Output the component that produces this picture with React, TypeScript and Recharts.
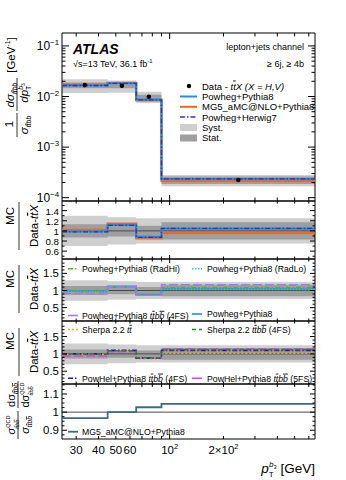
import React from 'react';
import {
  ComposedChart,
  Line,
  Area,
  Scatter,
  XAxis,
  YAxis,
  ReferenceArea,
  ReferenceLine,
} from 'recharts';

const FONT = '"Liberation Sans", Arial, Helvetica, sans-serif';

// bin edges of the b3 jet pT [GeV]
const binEdges = [25, 45, 65, 90, 650];

// top panel: normalised cross section [1/GeV]
const dataXsec = [0.0168, 0.0163, 0.0099, 2.24e-4];
const powhegPy8Xsec = [0.0166, 0.0183, 0.0087, 2.34e-4];
const mg5Py8Xsec = [0.0171, 0.0187, 0.0084, 2.15e-4];
const powhegH7Xsec = [0.0165, 0.0181, 0.0086, 2.35e-4];

// relative uncertainties
const systRel = [0.3, 0.27, 0.25, 0.25];
const statRel = [0.13, 0.11, 0.1, 0.17];

// MC / data ratios
const powhegPy8Ratio = [0.99, 1.12, 0.88, 1.046];
const mg5Py8Ratio = [1.02, 1.146, 0.85, 0.96];
const powhegH7Ratio = [0.98, 1.11, 0.87, 1.05];
const radHiRatio = [1.0, 1.1, 0.88, 1.08];
const radLoRatio = [0.98, 1.1, 0.86, 1.03];
const powheg4fsRatio = [0.92, 1.1, 0.86, 1.17];
const sherpaTtRatio = [0.98, 1.08, 0.86, 1.02];
const sherpa4fsRatio = [1.0, 1.09, 0.89, 1.12];
const powhel4fsRatio = [1.0, 1.1, 0.88, 1.1];
const powhel5fsRatio = [0.94, 1.07, 0.88, 1.14];

// ttbb(QCD+ttH+ttZ) / ttbb(QCD)
const qcdRatio = [0.967, 1.0, 1.027, 1.045];

// axis ticks
const xTicks = [30, 40, 50, 60, 70, 80, 90, 100, 200, 300, 400, 500, 600];
const xMajor = [100];
const xLabelValues = [30, 40, 50, 60, 100, 200];
const xLabelTexts = ['30', '40', '50', '60', '10|2', '2×10|2'];

const logMajor = [1e-4, 1e-3, 1e-2, 1e-1];
const logMinor = [2, 3, 4, 5, 6, 7, 8, 9].flatMap((m) => [m * 1e-4, m * 1e-3, m * 1e-2]);
const logLabels = ['10|−4', '10|−3', '10|−2', '10|−1'];

const r1Major = [0.6, 0.8, 1, 1.2, 1.4];
const r1Minor = [0.5, 0.7, 0.9, 1.1, 1.3, 1.5];
const r2Major = [0.5, 1, 1.5];
const r2Minor = [0.2, 0.3, 0.4, 0.6, 0.7, 0.8, 0.9, 1.1, 1.2, 1.3, 1.4, 1.6, 1.7, 1.8];
const r4Major = [0.9, 1, 1.1];
const r4Minor = [0.875, 0.925, 0.95, 0.975, 1.025, 1.05, 1.075, 1.125, 1.15];

const PL = 62;
const PR = 315;
const PAD = 8;

const stepRows = (series: Record<string, number[]>, bands?: { base: number[] | null }) =>
  binEdges.map((x, i) => {
    const k = Math.min(i, binEdges.length - 2);
    const row: any = { x };
    Object.entries(series).forEach(([key, vals]) => (row[key] = vals[k]));
    if (bands) {
      const b = bands.base ? bands.base[k] : 1;
      row.syst = [b * (1 - systRel[k]), b * (1 + systRel[k])];
      row.stat = [b * (1 - statRel[k]), b * (1 + statRel[k])];
    }
    return row;
  });

const binCenters = binEdges.slice(0, -1).map((lo, i) => Math.sqrt(lo * binEdges[i + 1]));
const dataPoints = dataXsec.map((y, i) => ({ x: binCenters[i], y }));

type Piece = { t: string; off?: number; sc?: number; over?: boolean; it?: boolean; dx?: number };

const Rich = ({
  x,
  y,
  size,
  pieces,
  anchor = 'start',
  rot = false,
  bold = false,
  italic = false,
}: {
  x: number;
  y: number;
  size: number;
  pieces: Piece[];
  anchor?: string;
  rot?: boolean;
  bold?: boolean;
  italic?: boolean;
}) => {
  let cur = 0;
  return (
    <text
      x={rot ? 0 : x}
      y={rot ? 0 : y}
      transform={rot ? `translate(${x},${y}) rotate(-90)` : undefined}
      fontSize={size}
      textAnchor={anchor as any}
      fontFamily={FONT}
      fontWeight={bold ? 'bold' : 'normal'}
      fontStyle={italic ? 'italic' : 'normal'}
      fill="#000"
    >
      {pieces.map((p, i) => {
        const target = (p.off ?? 0) * size;
        const dy = target - cur;
        cur = target;
        return (
          <tspan
            key={i}
            dy={dy}
            dx={p.dx ? p.dx * size : undefined}
            fontSize={(p.sc ?? 1) * size}
            fontStyle={p.it ? 'italic' : undefined}
            style={p.over ? { textDecoration: 'overline' } : undefined}
          >
            {p.t}
          </tspan>
        );
      })}
    </text>
  );
};

const ttbb = (off: number, sc: number, barB = true): Piece[] => [
  { t: 't', off, sc, it: true },
  { t: 't', off, sc, it: true, over: true },
  { t: 'b', off, sc, it: true },
  { t: 'b', off, sc, it: true, over: barB },
];

const powerPieces = (s: string): Piece[] => {
  const [a, b] = s.split('|');
  return b ? [{ t: a }, { t: b, off: -0.4, sc: 0.65 }] : [{ t: a }];
};

type LineSpec = { key: string; color: string; width: number; dash?: string };

type PanelProps = {
  top: number;
  bottom: number;
  rows: any[];
  yDomain: [number, number];
  log?: boolean;
  yMajor: number[];
  yMinor: number[];
  yLabel: (v: number) => React.ReactNode;
  lines: LineSpec[];
  points?: { x: number; y: number }[];
  refOne?: boolean;
  xLabels?: boolean;
  majorLen: number;
  minorLen: number;
  yMajorLen?: number;
};

const Panel = (p: PanelProps) => {
  const extra = p.xLabels ? 30 : 0;
  const xTick = (side: 'b' | 't') => (props: any) => {
    const { x, y, payload } = props;
    const v = payload.value;
    const len = xMajor.includes(v) ? p.majorLen : p.minorLen;
    const li = xLabelValues.indexOf(v);
    return (
      <g>
        <line x1={x} x2={x} y1={y} y2={side === 'b' ? y - len : y + len} stroke="#000" strokeWidth={1} />
        {side === 'b' && p.xLabels && li >= 0 && (
          <Rich x={x} y={y + 15} size={11.5} anchor="middle" pieces={powerPieces(xLabelTexts[li])} />
        )}
      </g>
    );
  };
  const yTick = (side: 'l' | 'r') => (props: any) => {
    const { x, y, payload } = props;
    const v = payload.value;
    const major = p.yMajor.some((m) => Math.abs(m - v) < 1e-9);
    const len = major ? p.yMajorLen ?? 5 : (p.yMajorLen ?? 5) / 2;
    return (
      <g>
        <line x1={x} x2={side === 'l' ? x + len : x - len} y1={y} y2={y} stroke="#000" strokeWidth={1} />
        {side === 'l' && major && p.yLabel(v) !== null && (
          <g transform={`translate(${x - 3},${y + 4})`}>{p.yLabel(v)}</g>
        )}
      </g>
    );
  };
  const yScale = p.log ? 'log' : 'linear';
  const yTicks = [...p.yMajor, ...p.yMinor];
  // axes need a non-zero size to be drawn, so each one gets 1px
  return (
    <div style={{ position: 'absolute', left: 0, top: p.top - PAD }}>
      <ComposedChart
        width={346}
        height={p.bottom - p.top + 2 * PAD + extra}
        margin={{ top: PAD - 1, right: 346 - PR - 1, bottom: PAD - 1 + extra, left: PL - 40 }}
      >
        <XAxis
          xAxisId="b"
          dataKey="x"
          type="number"
          scale="log"
          domain={[binEdges[0], binEdges[binEdges.length - 1]]}
          allowDataOverflow
          ticks={xTicks}
          interval={0}
          height={1}
          tickSize={0}
          tickMargin={0}
          axisLine={false}
          tickLine={false}
          tick={xTick('b')}
        />
        <XAxis
          xAxisId="t"
          orientation="top"
          dataKey="x"
          type="number"
          scale="log"
          domain={[binEdges[0], binEdges[binEdges.length - 1]]}
          allowDataOverflow
          ticks={xTicks}
          interval={0}
          height={1}
          tickSize={0}
          tickMargin={0}
          axisLine={false}
          tickLine={false}
          tick={xTick('t')}
        />
        <YAxis
          yAxisId="l"
          type="number"
          scale={yScale}
          domain={p.yDomain}
          allowDataOverflow
          ticks={yTicks}
          interval={0}
          width={40}
          tickSize={0}
          tickMargin={0}
          axisLine={false}
          tickLine={false}
          tick={yTick('l')}
        />
        <YAxis
          yAxisId="r"
          orientation="right"
          type="number"
          scale={yScale}
          domain={p.yDomain}
          allowDataOverflow
          ticks={yTicks}
          interval={0}
          width={1}
          tickSize={0}
          tickMargin={0}
          axisLine={false}
          tickLine={false}
          tick={yTick('r')}
        />
        {p.rows[0].syst && (
          <Area
            xAxisId="b"
            yAxisId="l"
            data={p.rows}
            dataKey="syst"
            type="stepAfter"
            stroke="none"
            fill="#cfcfcf"
            fillOpacity={1}
            isAnimationActive={false}
          />
        )}
        {p.rows[0].stat && (
          <Area
            xAxisId="b"
            yAxisId="l"
            data={p.rows}
            dataKey="stat"
            type="stepAfter"
            stroke="none"
            fill="#9e9e9e"
            fillOpacity={1}
            isAnimationActive={false}
          />
        )}
        {p.refOne && <ReferenceLine xAxisId="b" yAxisId="l" y={1} stroke="#4a4a4a" strokeWidth={1} />}
        {p.lines.map((l) => (
          <Line
            key={l.key}
            xAxisId="b"
            yAxisId="l"
            data={p.rows}
            dataKey={l.key}
            type="stepAfter"
            stroke={l.color}
            strokeWidth={l.width}
            strokeDasharray={l.dash}
            dot={false}
            activeDot={false}
            isAnimationActive={false}
          />
        ))}
        {p.points && (
          <Scatter
            xAxisId="b"
            yAxisId="l"
            data={p.points}
            dataKey="y"
            fill="#000"
            shape={(s: any) => <circle cx={s.cx} cy={s.cy} r={2.3} fill="#000" />}
            isAnimationActive={false}
          />
        )}
        <ReferenceArea
          xAxisId="b"
          yAxisId="l"
          x1={binEdges[0]}
          x2={binEdges[binEdges.length - 1]}
          y1={p.yDomain[0]}
          y2={p.yDomain[1]}
          fill="none"
          fillOpacity={0}
          stroke="#000"
          strokeWidth={1}
          ifOverflow="visible"
        />
      </ComposedChart>
    </div>
  );
};

const numLabel = (size: number) => (v: number) => (
  <text x={0} y={0} fontSize={size} textAnchor="end" fontFamily={FONT} fill="#000">
    {String(v)}
  </text>
);

const logLabel = (v: number) => {
  const i = logMajor.findIndex((m) => Math.abs(m - v) / m < 1e-6);
  return i < 0 ? null : <Rich x={0} y={0} size={12} anchor="end" pieces={powerPieces(logLabels[i])} />;
};

const BLUE = '#1f8cf5';
const ORANGE = '#f06a1e';
const NAVY = '#35359a';

const LegendLine = ({ x, y, color, dash, width = 1.6, w = 10 }: any) => (
  <line x1={x} x2={x + w} y1={y} y2={y} stroke={color} strokeWidth={width} strokeDasharray={dash} />
);

const RatioTitle = ({ cy, mcY }: { cy: number; mcY: number }) => (
  <g>
    <Rich x={14} y={mcY} size={11.5} rot anchor="middle" pieces={[{ t: 'MC' }]} />
    <line x1={19} x2={19} y1={cy - 24} y2={cy + 24} stroke="#000" strokeWidth={0.8} />
    <Rich
      x={38}
      y={cy}
      size={11.5}
      rot
      anchor="middle"
      pieces={[{ t: 'Data-' }, { t: 't', it: true }, { t: 't', it: true, over: true }, { t: 'X', it: true }]}
    />
  </g>
);

export default function App() {
  const topRows = stepRows(
    { mg5: mg5Py8Xsec, powheg: powhegPy8Xsec, h7: powhegH7Xsec },
    { base: dataXsec },
  );
  const r1Rows = stepRows(
    { mg5: mg5Py8Ratio, powheg: powhegPy8Ratio, h7: powhegH7Ratio },
    { base: null },
  );
  const r2Rows = stepRows(
    { powheg: powhegPy8Ratio, radLo: radLoRatio, radHi: radHiRatio, p4fs: powheg4fsRatio },
    { base: null },
  );
  const r3Rows = stepRows(
    { sherpaTt: sherpaTtRatio, sherpa4fs: sherpa4fsRatio, powhel4fs: powhel4fsRatio, powhel5fs: powhel5fsRatio },
    { base: null },
  );
  const r4Rows = stepRows({ qcd: qcdRatio });

  const mainLines: LineSpec[] = [
    { key: 'mg5', color: ORANGE, width: 2.2 },
    { key: 'powheg', color: BLUE, width: 2.2 },
    { key: 'h7', color: NAVY, width: 1.3, dash: '5 2 1.5 2' },
  ];

  return (
    <div style={{ position: 'absolute', left: 0, top: 0, width: 346, height: 480, background: '#fff' }}>
      <Panel
        top={33}
        bottom={201}
        rows={topRows}
        yDomain={[8.6e-5, 0.18]}
        log
        yMajor={logMajor}
        yMinor={logMinor}
        yLabel={logLabel}
        lines={mainLines}
        points={dataPoints}
        majorLen={6}
        minorLen={3.5}
        yMajorLen={7}
      />
      <Panel
        top={201}
        bottom={259}
        rows={r1Rows}
        yDomain={[0.445, 1.59]}
        yMajor={r1Major}
        yMinor={r1Minor}
        yLabel={numLabel(9.8)}
        lines={mainLines}
        refOne
        majorLen={4}
        minorLen={2.5}
      />
      <Panel
        top={259}
        bottom={321}
        rows={r2Rows}
        yDomain={[0.11, 1.92]}
        yMajor={r2Major}
        yMinor={r2Minor}
        yLabel={numLabel(11.5)}
        lines={[
          { key: 'powheg', color: BLUE, width: 1.6 },
          { key: 'radLo', color: '#2cc9d0', width: 1.6, dash: '1.5 1.5' },
          { key: 'radHi', color: '#4db521', width: 1.6, dash: '5 2 1.5 2' },
          { key: 'p4fs', color: '#a479f2', width: 1.6, dash: '9 3' },
        ]}
        refOne
        majorLen={4}
        minorLen={2.5}
      />
      <Panel
        top={321}
        bottom={384}
        rows={r3Rows}
        yDomain={[0.13, 1.95]}
        yMajor={r2Major}
        yMinor={r2Minor}
        yLabel={numLabel(11.5)}
        lines={[
          { key: 'sherpaTt', color: '#e0b020', width: 1.6, dash: '2 2' },
          { key: 'powhel5fs', color: '#e03fe0', width: 1.6, dash: '9 3' },
          { key: 'powhel4fs', color: '#1e1ea8', width: 1.6, dash: '5 2 1.5 2' },
          { key: 'sherpa4fs', color: '#238a23', width: 1.6, dash: '4 3' },
        ]}
        refOne
        majorLen={4}
        minorLen={2.5}
      />
      <Panel
        top={384}
        bottom={439}
        rows={r4Rows}
        yDomain={[0.852, 1.155]}
        yMajor={r4Major}
        yMinor={r4Minor}
        yLabel={numLabel(11.5)}
        lines={[{ key: 'qcd', color: '#3f6b7b', width: 1.8 }]}
        refOne
        xLabels
        majorLen={5}
        minorLen={3}
      />

      <svg
        width={346}
        height={480}
        style={{ position: 'absolute', left: 0, top: 0, pointerEvents: 'none' }}
      >
        {/* labels in the main panel */}
        <Rich x={73} y={53.5} size={14} bold italic pieces={[{ t: 'ATLAS' }]} />
        <Rich
          x={73}
          y={66.5}
          size={9}
          pieces={[{ t: '√s=13 TeV, 36.1 fb' }, { t: '-1', off: -0.4, sc: 0.65 }]}
        />
        <Rich x={304} y={50} size={9} anchor="end" pieces={[{ t: 'lepton+jets channel' }]} />
        <Rich x={304} y={66.5} size={9} anchor="end" pieces={[{ t: '≥ 6j, ≥ 4b' }]} />

        {/* main legend */}
        <circle cx={189} cy={86} r={2.2} fill="#000" />
        <Rich
          x={202}
          y={89.5}
          size={9.5}
          pieces={[
            { t: 'Data - ' },
            { t: 't', it: true },
            { t: 't', it: true, over: true },
            { t: 'X (X = H,V)', it: true },
          ]}
        />
        <LegendLine x={180} y={96.5} color={BLUE} width={2} w={17} />
        <Rich x={202} y={100} size={9.5} pieces={[{ t: 'Powheg+Pythia8' }]} />
        <LegendLine x={180} y={106.8} color={ORANGE} width={2} w={17} />
        <Rich x={202} y={110.3} size={9.5} pieces={[{ t: 'MG5_aMC@NLO+Pythia8' }]} />
        <LegendLine x={180} y={117} color={NAVY} width={1.3} w={17} dash="5 2 1.5 2" />
        <Rich x={202} y={120.5} size={9.5} pieces={[{ t: 'Powheg+Herwig7' }]} />
        <rect x={180} y={124} width={17} height={7} fill="#cfcfcf" />
        <Rich x={202} y={131} size={9.5} pieces={[{ t: 'Syst.' }]} />
        <rect x={180} y={134.5} width={17} height={7} fill="#9e9e9e" />
        <Rich x={202} y={141.3} size={9.5} pieces={[{ t: 'Stat.' }]} />

        {/* ratio panel 2 legend */}
        <LegendLine x={68} y={268.7} color="#4db521" dash="5 2 1.5 2" />
        <Rich x={82} y={272} size={8.7} pieces={[{ t: 'Powheg+Pythia8 (RadHi)' }]} />
        <LegendLine x={192} y={268.7} color="#2cc9d0" dash="1.5 1.5" />
        <Rich x={207} y={272} size={8.7} pieces={[{ t: 'Powheg+Pythia8 (RadLo)' }]} />
        <LegendLine x={68} y={315.5} color="#a479f2" />
        <Rich
          x={82}
          y={318.8}
          size={8.7}
          pieces={[{ t: 'Powheg+Pythia8 ' }, ...ttbb(0, 1), { t: ' (4FS)' }]}
        />
        <LegendLine x={192} y={314} color={BLUE} />
        <Rich x={207} y={317.3} size={8.7} pieces={[{ t: 'Powheg+Pythia8' }]} />

        {/* ratio panel 3 legend */}
        <LegendLine x={68} y={329.5} color="#e0b020" dash="2 2" />
        <Rich
          x={82}
          y={332.8}
          size={8.7}
          pieces={[{ t: 'Sherpa 2.2 ' }, { t: 't', it: true }, { t: 't', it: true, over: true }]}
        />
        <LegendLine x={192} y={329.5} color="#238a23" dash="4 3" />
        <Rich x={207} y={332.8} size={8.7} pieces={[{ t: 'Sherpa 2.2 ' }, ...ttbb(0, 1), { t: ' (4FS)' }]} />
        <LegendLine x={68} y={378.3} color="#1e1ea8" dash="5 2 1.5 2" />
        <Rich x={82} y={381.6} size={8.7} pieces={[{ t: 'PowHel+Pythia8 ' }, ...ttbb(0, 1), { t: ' (4FS)' }]} />
        <LegendLine x={192} y={378.3} color="#e03fe0" />
        <Rich x={207} y={381.6} size={8.7} pieces={[{ t: 'PowHel+Pythia8 ' }, ...ttbb(0, 1), { t: ' (5FS)' }]} />

        {/* ratio panel 4 legend */}
        <LegendLine x={68} y={431.7} color="#3f6b7b" width={1.8} />
        <Rich x={82} y={435} size={8.7} pieces={[{ t: 'MG5_aMC@NLO+Pythia8' }]} />

        {/* y axis titles */}
        <Rich x={15} y={55} size={11.5} rot anchor="middle" pieces={[{ t: '[GeV' }, { t: '-1', off: -0.4, sc: 0.6 }, { t: ']', off: 0 }]} />
        <Rich x={14} y={95} size={11.5} rot anchor="middle" pieces={[{ t: 'dσ', it: true }, ...ttbb(0.3, 0.6, false)]} />
        <line x1={17} x2={17} y1={78} y2={111} stroke="#000" strokeWidth={0.8} />
        <Rich
          x={28}
          y={93}
          size={11.5}
          rot
          anchor="middle"
          pieces={[
            { t: 'dp', it: true },
            { t: 'T', off: 0.3, sc: 0.6 },
            { t: 'b', off: -0.45, sc: 0.6, it: true, dx: -0.35 },
            { t: '3', off: -0.3, sc: 0.42 },
          ]}
        />
        <Rich x={13} y={124} size={11.5} rot anchor="middle" pieces={[{ t: '1' }]} />
        <line x1={17} x2={17} y1={113} y2={137} stroke="#000" strokeWidth={0.8} />
        <Rich x={28} y={125} size={11.5} rot anchor="middle" pieces={[{ t: 'σ', it: true }, ...ttbb(0.3, 0.6, false)]} />

        <RatioTitle cy={226} mcY={216} />
        <RatioTitle cy={289} mcY={279} />
        <RatioTitle cy={352} mcY={341} />

        {/* bottom ratio title */}
        <Rich x={15} y={395} size={11} rot anchor="middle" pieces={[{ t: 'dσ' }, ...ttbb(0.3, 0.6)]} />
        <line x1={18} x2={18} y1={381} y2={408} stroke="#000" strokeWidth={0.8} />
        <Rich
          x={29}
          y={395}
          size={11}
          rot
          anchor="middle"
          pieces={[{ t: 'dσ' }, { t: 'QCD', off: -0.45, sc: 0.5 }, ...ttbb(0.35, 0.5).map((q, i) => (i === 0 ? { ...q, dx: -1.2 } : q))]}
        />
        <Rich
          x={15}
          y={425}
          size={11}
          rot
          anchor="middle"
          pieces={[{ t: 'σ', it: true }, { t: 'QCD', off: -0.45, sc: 0.5 }, ...ttbb(0.35, 0.5).map((q, i) => (i === 0 ? { ...q, dx: -1.2 } : q))]}
        />
        <line x1={18} x2={18} y1={411} y2={439} stroke="#000" strokeWidth={0.8} />
        <Rich x={29} y={425} size={11} rot anchor="middle" pieces={[{ t: 'σ', it: true }, ...ttbb(0.3, 0.6)]} />

        {/* x axis title */}
        <Rich
          x={315}
          y={473}
          size={13.5}
          anchor="end"
          pieces={[
            { t: 'p', it: true },
            { t: 'T', off: 0.3, sc: 0.6 },
            { t: 'b', off: -0.45, sc: 0.6, it: true, dx: -0.35 },
            { t: '3', off: -0.3, sc: 0.42 },
            { t: ' [GeV]', off: 0 },
          ]}
        />
      </svg>
    </div>
  );
}
